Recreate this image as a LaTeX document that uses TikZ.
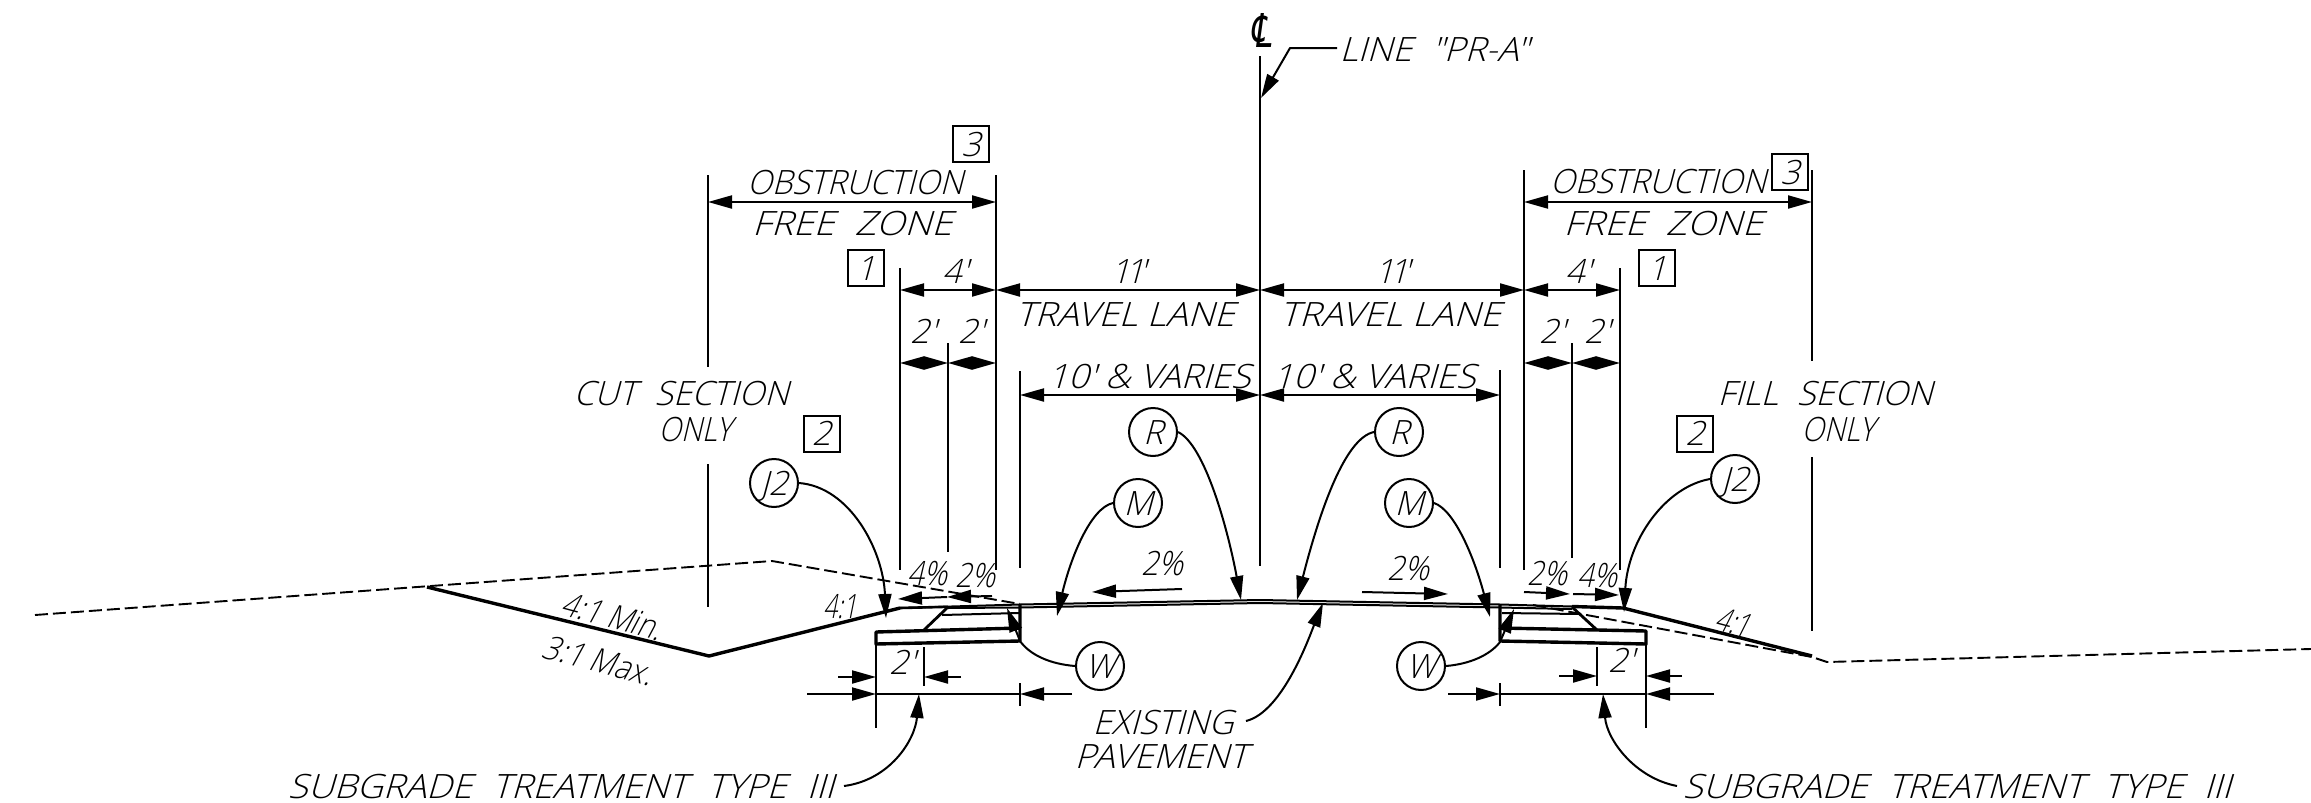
\documentclass[tikz,border=0pt]{standalone}
\usepackage{fontspec}
\usetikzlibrary{arrows.meta}
\newfontfamily\cad{Open Sans}[UprightFont=* Light,FakeSlant=0.27]
\newfontfamily\cls{DejaVu Sans}[FakeSlant=0.2]
\newcommand\fitw[2]{\resizebox{#1pt}{\height}{#2}}
\newcommand\wsp{\hspace{0.55em}}
\newcommand\tk{\kern-0.15em}
\newcommand\seg[6]{\coordinate (#1a) at (#2,#3); \coordinate (#1b) at (#4,#5); \draw[#6] (#1a) -- (#1b);}
\tikzset{
  ext/.style={line width=2pt},
  tk/.style={line width=3.4pt,line join=round},
  mid/.style={line width=2pt,line join=round},
  grd/.style={line width=1.9pt,dash pattern=on 13pt off 5pt},
  dimr/.style={line width=2pt,{Triangle[length=24pt,width=13pt]}-{Triangle[length=24pt,width=13pt]}},
  ldr/.style={line width=2pt,-{Triangle[length=24pt,width=13pt]}},
  lbl/.style={inner sep=0pt,font=\cad\fontsize{33.5}{36}\selectfont,text height=24pt,text depth=0pt},
  tag/.style={lbl,draw,line width=2pt,rectangle,minimum size=36pt},
  bub/.style={lbl,draw,line width=2pt,circle,minimum size=48pt,text height=24pt}
}
\begin{document}
\begin{tikzpicture}[x=1pt,y=-1pt]
\useasboundingbox (0,0) rectangle (2311,803);
% extension lines
\seg{e1}{708}{175}{708}{367}{ext}
\seg{e2}{708}{464}{708}{607}{ext}
\seg{e3}{996}{175}{996}{570}{ext}
\seg{e4}{900}{268}{900}{570}{ext}
\seg{e5}{948}{343}{948}{552}{ext}
\seg{e6}{1020}{371}{1020}{568}{ext}
\seg{e7}{1260}{56}{1260}{566}{ext}
\seg{e8}{1500}{370}{1500}{568}{ext}
\seg{e9}{1524}{170}{1524}{570}{ext}
\seg{e10}{1572}{343}{1572}{558}{ext}
\seg{e11}{1620}{268}{1620}{570}{ext}
\seg{e12}{1812}{170}{1812}{361}{ext}
\seg{e13}{1812}{457}{1812}{631}{ext}
% dimension lines
\seg{d1}{708}{202}{996}{202}{dimr}
\seg{d2}{1524}{202}{1812}{202}{dimr}
\seg{d3}{900}{290}{996}{290}{dimr}
\seg{d4}{996}{290}{1260}{290}{dimr}
\seg{d5}{1260}{290}{1524}{290}{dimr}
\seg{d6}{1524}{290}{1620}{290}{dimr}
\seg{d7}{900}{363}{948}{363}{dimr}
\seg{d8}{948}{363}{996}{363}{dimr}
\seg{d9}{1524}{363}{1572}{363}{dimr}
\seg{d10}{1572}{363}{1620}{363}{dimr}
\seg{d11}{1020}{395}{1260}{395}{dimr}
\seg{d12}{1260}{395}{1500}{395}{dimr}
% ground lines
\coordinate (g1) at (427,587); \coordinate (g2) at (709,656); \coordinate (g3) at (900,608);
\coordinate (g4) at (1020,604.5); \coordinate (g5) at (1260,600); \coordinate (g6) at (1500,604.5);
\coordinate (g7) at (1572,606.5); \coordinate (g8) at (1623,608); \coordinate (g9) at (1812,656);
\draw[tk] (g1) -- (g2) -- (g3);
\draw[mid] (g3) -- (g4) -- (g5) -- (g6) -- (g7);
\draw[tk] (g7) -- (g8) -- (g9);
\draw[tk,line width=2.6pt] (g3) -- (948,606.8);
\coordinate (p1) at (948,608); \coordinate (p2) at (1020,607.5); \coordinate (p3) at (1260,603); \coordinate (p4) at (1500,607.5); \coordinate (p5) at (1572,609);
\draw[mid] (p1) -- (p2) -- (p3) -- (p4) -- (p5);
\coordinate (a1) at (35,615); \coordinate (a2) at (772,561); \coordinate (a3) at (1020,604);
\draw[grd] (a1) -- (a2) -- (a3);
\coordinate (b1) at (1533,605); \coordinate (b2) at (1812,657); \coordinate (b3) at (1827,662); \coordinate (b4) at (2311,649);
\draw[grd] (b1) -- (b2) -- (b3) -- (b4);
% left widening
\coordinate (s1) at (876,632); \coordinate (s2) at (1020,628); \coordinate (s3) at (1020,641); \coordinate (s4) at (876,644);
\draw[tk] (s2) -- (s1) -- (s4) -- (s3) -- (1020,605);
\coordinate (s5) at (948,607); \coordinate (s6) at (924,630);
\draw[tk,line width=2.8pt] (s5) -- (s6);
\coordinate (s7) at (942,615); \coordinate (s8) at (1020,613);
\draw[ext] (s7) -- (s8);
% right widening
\coordinate (r1) at (1646,631); \coordinate (r2) at (1500,628); \coordinate (r3) at (1500,641); \coordinate (r4) at (1646,644);
\draw[tk] (r2) -- (r1) -- (r4) -- (r3) -- (1500,605);
\coordinate (r5) at (1572,607); \coordinate (r6) at (1597,630);
\draw[tk,line width=2.8pt] (r5) -- (r6);
\coordinate (r7) at (1502,613); \coordinate (r8) at (1580,614);
\draw[ext] (r7) -- (r8);
% bottom dims
\seg{f1}{924}{647}{924}{686}{ext}
\seg{f2}{876}{644}{876}{728}{ext}
\seg{f3}{1020}{683}{1020}{706}{ext}
\seg{f4}{1597}{647}{1597}{686}{ext}
\seg{f5}{1646}{644}{1646}{728}{ext}
\seg{f6}{1500}{683}{1500}{706}{ext}
\seg{h1}{838}{677}{876}{677}{ldr}
\seg{h2}{961}{677}{924}{677}{ldr}
\seg{h3}{807}{694}{876}{694}{ldr}
\seg{h4}{1072}{694}{1020}{694}{ldr}
\coordinate (h5) at (876,694); \coordinate (h6) at (1020,694);
\draw[ext] (h5) -- (h6);
\seg{h7}{1559}{676}{1597}{676}{ldr}
\seg{h8}{1682}{676}{1646}{676}{ldr}
\seg{h9}{1448}{694}{1500}{694}{ldr}
\seg{h10}{1714}{694}{1646}{694}{ldr}
\coordinate (h11) at (1500,694); \coordinate (h12) at (1646,694);
\draw[ext] (h11) -- (h12);
% slope arrows
\seg{k1}{947}{597}{898}{599}{ldr}
\seg{k2}{992}{596}{947}{597}{ldr}
\seg{k3}{1182}{589}{1092}{592}{ldr}
\seg{k4}{1362}{592}{1448}{594}{ldr}
\seg{k5}{1524}{592}{1570}{594}{ldr}
\seg{k6}{1573}{594}{1619}{595}{ldr}
% boxes and bubbles
\node[tag] (t3l) at (971,144) {3};
\node[tag] (t3r) at (1790,172) {3};
\node[tag] (t1l) at (865.5,268) {1};
\node[tag] (t1r) at (1657,268) {1};
\node[tag] (t2l) at (821.5,433.5) {2};
\node[tag] (t2r) at (1695,433.5) {2};
\node[bub] (j2l) at (774,483) {J2};
\node[bub] (j2r) at (1735,479) {J2};
\node[bub] (rl) at (1153,432) {R};
\node[bub] (rr) at (1399,432) {R};
\node[bub] (ml) at (1138,503) {M};
\node[bub] (mr) at (1409,503) {M};
\node[bub] (wl) at (1100,666) {W};
\node[bub] (wr) at (1421,666) {W};
% text
\node[lbl] (obl) at (855,182) {\fitw{216}{OBSTRUCTION}};
\node[lbl] (frl) at (852,223) {\fitw{200}{FREE\wsp ZONE}};
\node[lbl] (obr) at (1658,181) {\fitw{216}{OBSTRUCTION}};
\node[lbl] (frr) at (1663,223) {\fitw{199}{FREE\wsp ZONE}};
\node[lbl] (fl) at (955,271) {4'};
\node[lbl] (fr) at (1578,271) {4'};
\node[lbl] (el) at (1128,271) {1\tk 1\tk'};
\node[lbl] (er) at (1392,271) {1\tk 1\tk'};
\node[lbl] (tll) at (1125,314) {\fitw{219}{TRAVEL LANE}};
\node[lbl] (tlr) at (1390,314) {\fitw{221}{TRAVEL LANE}};
\node[lbl] (a2l) at (923,331) {2'};
\node[lbl] (b2l) at (971,331) {2'};
\node[lbl] (a2r) at (1552,331) {2'};
\node[lbl] (b2r) at (1597,331) {2'};
\node[lbl] (vl) at (1149,376) {\fitw{203}{10' \& VARIES}};
\node[lbl] (vr) at (1374,376) {\fitw{203}{10' \& VARIES}};
\node[lbl] (cut) at (681,393) {\fitw{215}{CUT\wsp SECTION}};
\node[lbl] (onl) at (695,429) {\fitw{73}{ONLY}};
\node[lbl] (fil) at (1825,393) {\fitw{215}{FILL\wsp SECTION}};
\node[lbl] (onr) at (1838,429) {\fitw{73}{ONLY}};
\node[lbl] (prl) at (1434,49) {\fitw{189}{LINE\wsp "PR-A"}};
\node[lbl,font=\cls] (clr) at (1261,36) {\resizebox{21pt}{34pt}{℄}};
\node[lbl] (p4l) at (927,573) {\fitw{40}{4\%}};
\node[lbl] (p2l) at (975,575) {\fitw{40}{2\%}};
\node[lbl] (p2a) at (1162,563) {\fitw{42}{2\%}};
\node[lbl] (p2b) at (1408,568) {\fitw{42}{2\%}};
\node[lbl] (p2r) at (1547,573) {\fitw{40}{2\%}};
\node[lbl] (p4r) at (1597,575) {\fitw{40}{4\%}};
\node[lbl] (sl1) at (840,606) {\fitw{34}{4:1}};
\node[lbl,rotate=-15] (sl2) at (612,616) {\fitw{102}{4:1 Min.}};
\node[lbl,rotate=-15] (sl3) at (598,660) {\fitw{112}{3:1 Max.}};
\node[lbl,rotate=-15] (sl4) at (1733,622) {\fitw{35}{4:1}};
\node[lbl] (wb1) at (902,662) {2'};
\node[lbl] (wb2) at (1621,660) {2'};
\node[lbl] (ex1) at (1163,722) {\fitw{141}{EXISTING}};
\node[lbl] (ex2) at (1161,756) {\fitw{173}{PAVEMENT}};
\node[lbl] (stl) at (561,786) {\fitw{546}{SUBGRADE\wsp TREATMENT\wsp TYPE\wsp III}};
\node[lbl] (str) at (1957,786) {\fitw{548}{SUBGRADE\wsp TREATMENT\wsp TYPE\wsp III}};
% leaders
\coordinate (q0) at (1337,48); \coordinate (q1) at (1290,48); \coordinate (q2) at (1261,98);
\draw[ldr,line join=round] (q0) -- (q1) -- (q2);
\coordinate (tj2l) at (886,618); \coordinate (tj2r) at (1624,612);
\coordinate (trl) at (1241,600); \coordinate (trr) at (1297,600);
\coordinate (tml) at (1057,616); \coordinate (tmr) at (1490,617);
\coordinate (twl) at (1007,608); \coordinate (twr) at (1514,609);
\coordinate (cwl) at (1020,641); \coordinate (cwr) at (1500,642);
\coordinate (tex) at (1323,603); \coordinate (sex) at (1246,721);
\coordinate (tsl) at (919,694); \coordinate (ssl) at (844,786);
\coordinate (tsr) at (1603,694); \coordinate (ssr) at (1677,786);
\draw[ldr] (j2l.east) .. controls (850,487) and (883,550) .. (tj2l);
\draw[ldr] (j2r.west) .. controls (1665,487) and (1628,540) .. (tj2r);
\draw[ldr] (rl.east) .. controls (1205,445) and (1228,530) .. (trl);
\draw[ldr] (rr.west) .. controls (1345,438) and (1320,510) .. (trr);
\draw[ldr] (ml.west) .. controls (1090,508) and (1070,560) .. (tml);
\draw[ldr] (mr.east) .. controls (1455,510) and (1475,560) .. (tmr);
\draw[ldr] (wl.west) .. controls (1050,664) and (1030,655) .. (cwl) -- (twl);
\draw[ldr] (wr.east) .. controls (1470,664) and (1490,655) .. (cwr) -- (twr);
\draw[ldr] (sex) .. controls (1283,712) and (1310,635) .. (tex);
\draw[ldr] (ssl) .. controls (890,780) and (915,740) .. (tsl);
\draw[ldr] (ssr) .. controls (1635,778) and (1607,740) .. (tsr);
\end{tikzpicture}
\end{document}
